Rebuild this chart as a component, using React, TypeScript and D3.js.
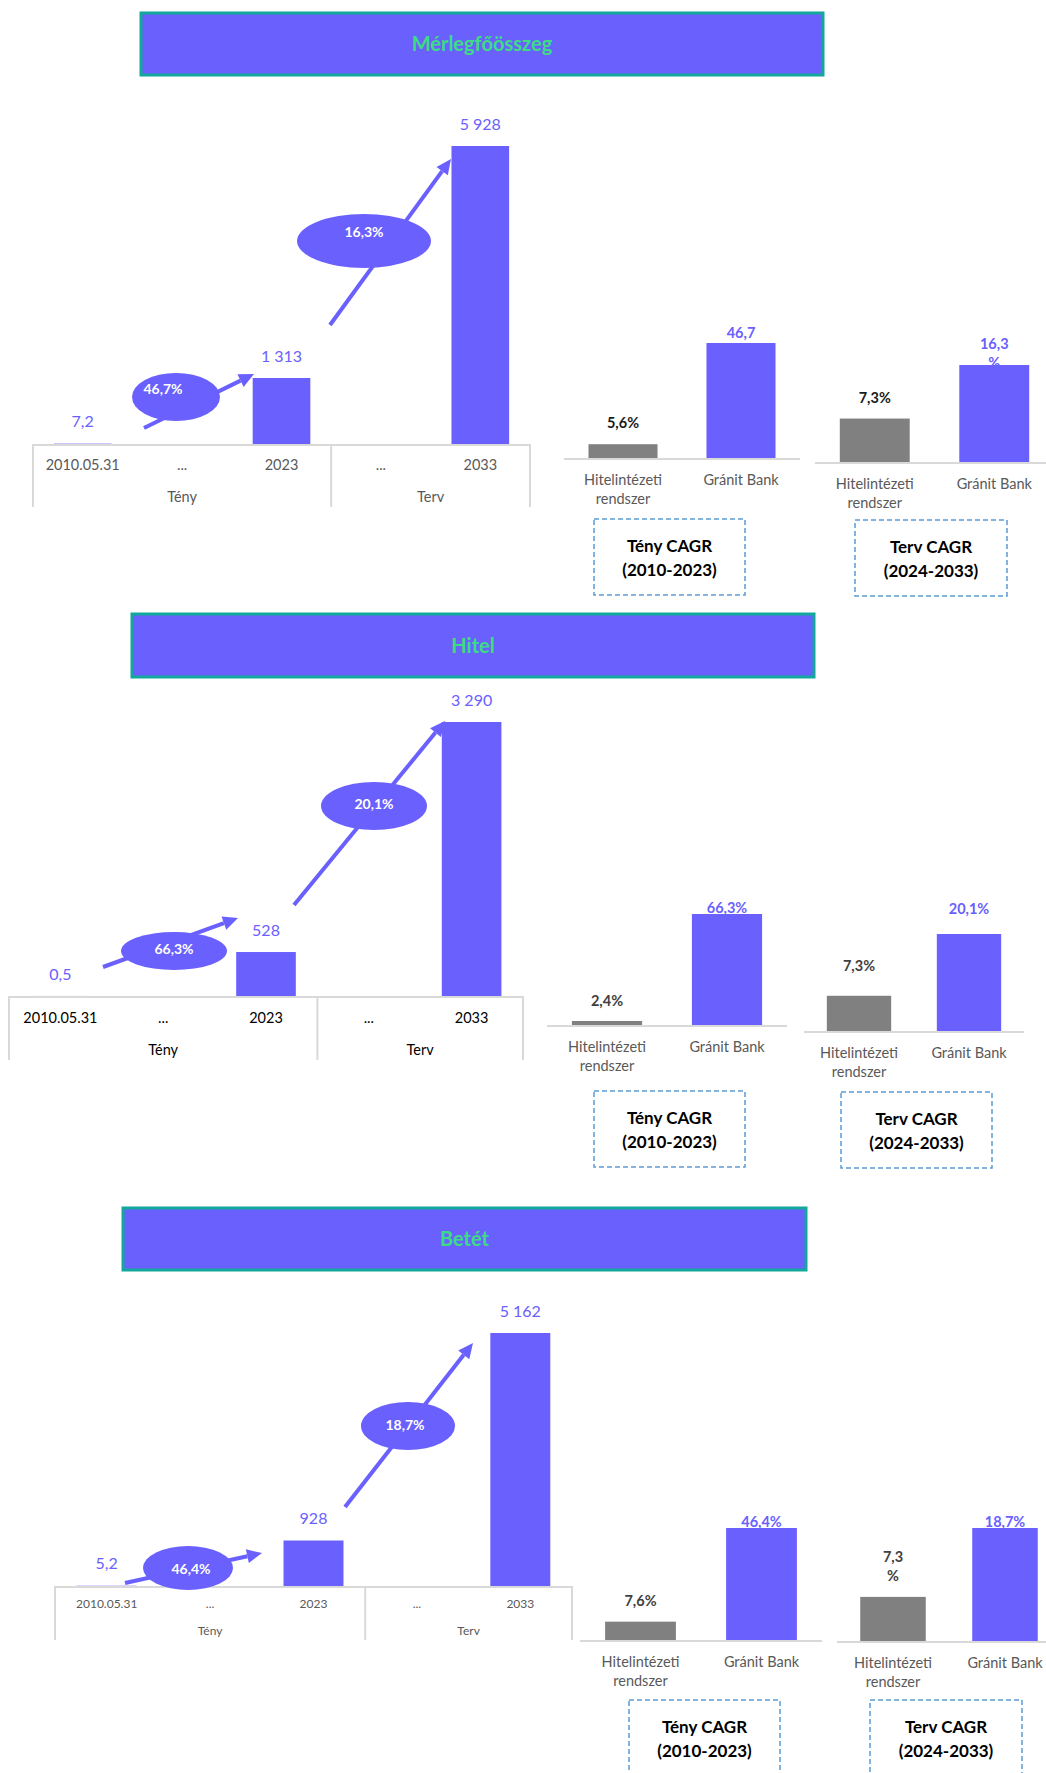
import * as d3 from "d3";
import React from "react";

// ---- data ----
const titles = ["Mérlegfőösszeg", "Hitel", "Betét"];
const periodCats = ["2010.05.31", "...", "2023", "...", "2033"];
const groupLabels = ["Tény", "Terv"];

const merlegValues = [7.2, null, 1313, null, 5928];
const hitelValues = [0.5, null, 528, null, 3290];
const betetValues = [5.2, null, 928, null, 5162];

// CAGR shown in the ellipses (Tény, Terv)
const merlegCagr = [46.7, 16.3];
const hitelCagr = [66.3, 20.1];
const betetCagr = [46.4, 18.7];

const compareCats = [["Hitelintézeti", "rendszer"], ["Gránit Bank"]];
const merlegTeny = [5.6, 46.7];
const merlegTerv = [7.3, 16.3];
const hitelTeny = [2.4, 66.3];
const hitelTerv = [7.3, 20.1];
const betetTeny = [7.6, 46.4];
const betetTerv = [7.3, 18.7];

const boxTitles = [
  ["Tény CAGR", "(2010-2023)"],
  ["Terv CAGR", "(2024-2033)"],
];

// ---- styles ----
const PURPLE = "#6A60FE";
const TEAL = "#13A89C";
const GREEN = "#3DDC84";
const GRAY_BAR = "#808080";
const AXIS = "#D9D9D9";
const FONT = "Lato, 'Open Sans', sans-serif";

const huLocale = d3.formatLocale({ decimal: ",", thousands: " ", grouping: [3], currency: ["", ""] });
const fmtValue = (v: number) => (v < 10 ? huLocale.format(".1f")(v) : huLocale.format(",.0f")(v));
const fmtPct = (v: number) => huLocale.format(".1f")(v) + "%";

// ---- layout ----
const panels = [
  {
    title: titles[0],
    values: merlegValues,
    cagr: merlegCagr,
    teny: merlegTeny,
    terv: merlegTerv,
    titleBox: { x0: 141, x1: 823, y0: 13, y1: 75 },
    main: { x0: 33, x1: 530, base: 444, top: 146, drop: 63, tickDy: 21, groupDy: 53, fs: 14.5, color: "#595959" },
    arrows: [
      { from: [144, 428], to: [254, 374] },
      { from: [330, 325], to: [451, 159] },
    ],
    ellipses: [
      { cx: 176, cy: 397, rx: 44, ry: 24, tx: -13, ty: -8 },
      { cx: 364, cy: 241, rx: 67, ry: 27, tx: 0, ty: -9 },
    ],
    small: [
      { x0: 564, x1: 800, base: 458, top: 343, dy: [21, 10], wrap: [false, true], grayColor: "#1a1a1a", box: { x0: 594, x1: 745, y0: 519, y1: 595 } },
      { x0: 815, x1: 1054, base: 462, top: 365, dy: [21, 21], wrap: [false, true], grayColor: "#1a1a1a", box: { x0: 855, x1: 1007, y0: 520, y1: 596 } },
    ],
  },
  {
    title: titles[1],
    values: hitelValues,
    cagr: hitelCagr,
    teny: hitelTeny,
    terv: hitelTerv,
    titleBox: { x0: 132, x1: 814, y0: 614, y1: 677 },
    main: { x0: 9, x1: 523, base: 996, top: 722, drop: 64, tickDy: 22, groupDy: 54, fs: 14.5, color: "#000000" },
    arrows: [
      { from: [103, 967], to: [238, 918] },
      { from: [294, 905], to: [445, 721] },
    ],
    ellipses: [
      { cx: 174, cy: 951, rx: 53, ry: 19, tx: 0, ty: -2 },
      { cx: 374, cy: 806, rx: 53, ry: 24, tx: 0, ty: -2 },
    ],
    small: [
      { x0: 547, x1: 787, base: 1025, top: 914, dy: [20, 6], wrap: [false, false], grayColor: "#404040", box: { x0: 594, x1: 745, y0: 1091, y1: 1167 } },
      { x0: 804, x1: 1024, base: 1031, top: 934, dy: [30, 25], wrap: [false, false], grayColor: "#404040", box: { x0: 841, x1: 992, y0: 1092, y1: 1168 } },
    ],
  },
  {
    title: titles[2],
    values: betetValues,
    cagr: betetCagr,
    teny: betetTeny,
    terv: betetTerv,
    titleBox: { x0: 123, x1: 806, y0: 1208, y1: 1270 },
    main: { x0: 55, x1: 572, base: 1586, top: 1333, drop: 54, tickDy: 18, groupDy: 45, fs: 12, color: "#595959" },
    arrows: [
      { from: [125, 1583], to: [262, 1553] },
      { from: [345, 1507], to: [473, 1343] },
    ],
    ellipses: [
      { cx: 188, cy: 1568, rx: 45, ry: 22, tx: 3, ty: 1 },
      { cx: 408, cy: 1426, rx: 47, ry: 24, tx: -3, ty: -1 },
    ],
    small: [
      { x0: 580, x1: 822, base: 1640, top: 1528, dy: [21, 6], wrap: [false, false], grayColor: "#404040", box: { x0: 629, x1: 780, y0: 1700, y1: 1776 } },
      { x0: 837, x1: 1061, base: 1641, top: 1528, dy: [40, 6], wrap: [true, false], grayColor: "#404040", box: { x0: 870, x1: 1022, y0: 1700, y1: 1776 } },
    ],
  },
];

type Pt = number[];

function Arrow({ from, to }: { from: Pt; to: Pt }) {
  const ang = Math.atan2(to[1] - from[1], to[0] - from[0]);
  const headLen = 15;
  const headW = 7;
  const bx = to[0] - headLen * Math.cos(ang);
  const by = to[1] - headLen * Math.sin(ang);
  const nx = -Math.sin(ang) * headW;
  const ny = Math.cos(ang) * headW;
  const head = `M${to[0]},${to[1]}L${bx + nx},${by + ny}L${bx - nx},${by - ny}Z`;
  return (
    <g>
      <line x1={from[0]} y1={from[1]} x2={bx} y2={by} stroke={PURPLE} strokeWidth={4} />
      <path d={head} fill={PURPLE} />
    </g>
  );
}

function MainChart({ p }: { p: (typeof panels)[number] }) {
  const L = p.main;
  const slot = d3.scaleBand<number>().domain(d3.range(periodCats.length)).range([L.x0, L.x1]);
  const maxV = d3.max(p.values, (v) => v ?? 0) as number;
  const y = d3.scaleLinear().domain([0, maxV]).range([L.base, L.top]);
  const bw = slot.bandwidth() * 0.58;
  const center = (i: number) => (slot(i) as number) + slot.bandwidth() / 2;
  const split = slot(3) as number;

  return (
    <g fontFamily={FONT}>
      {/* axis frame */}
      <line x1={L.x0} x2={L.x1} y1={L.base + 1} y2={L.base + 1} stroke={AXIS} strokeWidth={2} />
      {[L.x0, split, L.x1].map((x, i) => (
        <line key={i} x1={x} x2={x} y1={L.base} y2={L.base + L.drop} stroke={AXIS} strokeWidth={2} />
      ))}
      {periodCats.map((c, i) => (
        <text key={i} x={center(i)} y={L.base + L.tickDy} dy="0.35em" textAnchor="middle" fontSize={L.fs} fill={L.color}>
          {c}
        </text>
      ))}
      <text x={(L.x0 + split) / 2} y={L.base + L.groupDy} dy="0.35em" textAnchor="middle" fontSize={L.fs} fill={L.color}>
        {groupLabels[0]}
      </text>
      <text x={(split + L.x1) / 2} y={L.base + L.groupDy} dy="0.35em" textAnchor="middle" fontSize={L.fs} fill={L.color}>
        {groupLabels[1]}
      </text>

      {/* bars */}
      {p.values.map((v, i) =>
        v == null ? null : (
          <g key={i}>
            <rect x={center(i) - bw / 2} y={y(v)} width={bw} height={L.base - y(v)} fill={PURPLE} />
            <text x={center(i)} y={y(v) - 22} dy="0.35em" textAnchor="middle" fontSize={16} fill={PURPLE}>
              {fmtValue(v)}
            </text>
          </g>
        )
      )}

      {/* CAGR arrows */}
      {p.arrows.map((a, i) => (
        <Arrow key={i} from={a.from} to={a.to} />
      ))}
      {p.ellipses.map((e, i) => (
        <g key={i}>
          <ellipse cx={e.cx} cy={e.cy} rx={e.rx} ry={e.ry} fill={PURPLE} />
          <text x={e.cx + e.tx} y={e.cy + e.ty} dy="0.35em" textAnchor="middle" fontSize={14} fontWeight={700} fill="#ffffff">
            {fmtPct(p.cagr[i])}
          </text>
        </g>
      ))}
    </g>
  );
}

function CompareChart({ values, L, box }: { values: number[]; L: any; box: string[] }) {
  const x = d3.scaleBand<number>().domain([0, 1]).range([L.x0, L.x1]).paddingInner(0.415).paddingOuter(0.2075);
  const y = d3.scaleLinear().domain([0, d3.max(values) as number]).range([L.base, L.top]);
  const colors = [GRAY_BAR, PURPLE];
  const labelColors = [L.grayColor, PURPLE];

  return (
    <g fontFamily={FONT}>
      {values.map((v, i) => {
        const cx = (x(i) as number) + x.bandwidth() / 2;
        const txt = fmtPct(v);
        const lines = L.wrap[i] ? [txt.slice(0, -1), "%"] : [txt];
        return (
          <text key={"l" + i} x={cx} y={y(v) - L.dy[i]} textAnchor="middle" fontSize={14.5} fontWeight={700} fill={labelColors[i]}>
            {lines.map((ln, k) => (
              <tspan key={k} x={cx} dy={k === 0 ? "0.35em" : 19}>
                {ln}
              </tspan>
            ))}
          </text>
        );
      })}
      {values.map((v, i) => (
        <rect key={"b" + i} x={x(i)} y={y(v)} width={x.bandwidth()} height={L.base - y(v)} fill={colors[i]} />
      ))}
      <line x1={L.x0} x2={L.x1} y1={L.base + 1} y2={L.base + 1} stroke={AXIS} strokeWidth={2} />
      {compareCats.map((c, i) => {
        const cx = (x(i) as number) + x.bandwidth() / 2;
        return (
          <text key={"c" + i} x={cx} y={L.base + 22} textAnchor="middle" fontSize={14.5} fill="#595959">
            {c.map((ln, k) => (
              <tspan key={k} x={cx} dy={k === 0 ? "0.35em" : 19}>
                {ln}
              </tspan>
            ))}
          </text>
        );
      })}
      <rect
        x={L.box.x0}
        y={L.box.y0}
        width={L.box.x1 - L.box.x0}
        height={L.box.y1 - L.box.y0}
        fill="none"
        stroke="#5B9BD5"
        strokeWidth={1.5}
        strokeDasharray="5 3"
      />
      <text x={(L.box.x0 + L.box.x1) / 2} y={L.box.y0 + 27} dy="0.35em" textAnchor="middle" fontSize={17} fontWeight={700} fill="#000">
        {box[0]}
      </text>
      <text x={(L.box.x0 + L.box.x1) / 2} y={L.box.y0 + 51} dy="0.35em" textAnchor="middle" fontSize={17} fontWeight={700} fill="#000">
        {box[1]}
      </text>
    </g>
  );
}

export default function App() {
  return (
    <svg width={1046} height={1773} style={{ position: "absolute", left: 0, top: 0, background: "#fff" }}>
      {panels.map((p, pi) => (
        <g key={pi}>
          <rect
            x={p.titleBox.x0}
            y={p.titleBox.y0}
            width={p.titleBox.x1 - p.titleBox.x0}
            height={p.titleBox.y1 - p.titleBox.y0}
            fill={PURPLE}
            stroke={TEAL}
            strokeWidth={3}
          />
          <text
            x={(p.titleBox.x0 + p.titleBox.x1) / 2}
            y={(p.titleBox.y0 + p.titleBox.y1) / 2}
            dy="0.35em"
            textAnchor="middle"
            fontFamily={FONT}
            fontSize={20}
            fontWeight={700}
            fill={GREEN}
          >
            {p.title}
          </text>
          <MainChart p={p} />
          <CompareChart values={p.teny} L={p.small[0]} box={boxTitles[0]} />
          <CompareChart values={p.terv} L={p.small[1]} box={boxTitles[1]} />
        </g>
      ))}
    </svg>
  );
}
